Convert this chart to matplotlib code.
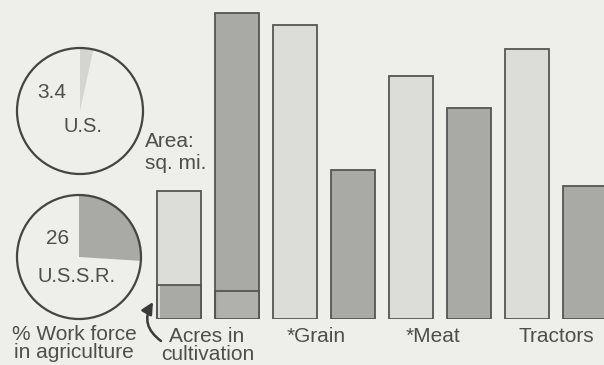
import numpy as np
import matplotlib.pyplot as plt
from matplotlib.patches import Circle, FancyArrowPatch

plt.rcParams['font.family'] = ['Liberation Sans', 'DejaVu Sans']

# Palette
C_BG    = '#eeeeea'
C_LIGHT = '#dcdcd8'   # U.S.
C_DARK  = '#a9a9a5'   # U.S.S.R.
C_EDGE  = '#555555'
C_TEXT  = '#4e4e4e'

# Work force in agriculture (%)
work_force_us = 3.4
work_force_ussr = 26

# Bar heights, relative scale (U.S.S.R. area = 100), U.S. / U.S.S.R. pairs
categories = ['Area', 'Grain', 'Meat', 'Tractors']
us_values   = [41.8, 96.1, 79.4, 88.2]
ussr_values = [100.0, 48.7, 69.0, 43.5]
# Acres in cultivation, drawn inside the area bars
acres_us, acres_ussr = 11.1, 9.2

W, H = 604, 365
fig = plt.figure(figsize=(W / 100, H / 100), dpi=100)
fig.patch.set_facecolor(C_BG)


def px_axes(x0, y0, x1, y1):
    """Axes from pixel box (top-left origin)."""
    return fig.add_axes([x0 / W, 1 - y1 / H, (x1 - x0) / W, (y1 - y0) / H])


# ── Bars ──────────────────────────────────────────────────────────────────
step = 58.0
ax = px_axes(149.5, 0, W, 319)
ax.set_facecolor('none')
ax.set_xlim(-0.5, -0.5 + (W - 149.5) / step)
ax.set_ylim(0, 319 / 3.06)
ax.axis('off')

bw = 44 / step
xs_us = np.arange(len(categories)) * 2
xs_ussr = xs_us + 1
ax.bar(xs_us, us_values, width=bw, color=C_LIGHT, edgecolor=C_EDGE, linewidth=1.3, zorder=2)
ax.bar(xs_ussr, ussr_values, width=bw, color=C_DARK, edgecolor=C_EDGE, linewidth=1.3, zorder=2)

# cultivated share inside the area bars, with a thin light strip on the left
strip = 3 / step
ax.bar([xs_us[0] - bw / 2 + strip], [acres_us], width=bw - strip, align='edge',
       color=C_DARK, edgecolor='none', zorder=3)
ax.bar([xs_ussr[0] - bw / 2 + strip], [acres_ussr], width=bw - strip, align='edge',
       color='#b0b0ac', edgecolor='none', zorder=3)
for x, a in [(xs_us[0], acres_us), (xs_ussr[0], acres_ussr)]:
    ax.bar([x], [a], width=bw, color='none', edgecolor=C_EDGE, linewidth=1.3, zorder=4)

# ── Pies ──────────────────────────────────────────────────────────────────
def work_pie(cx, cy, r, pct, color):
    pad = 6
    pax = px_axes(cx - r - pad, cy - r - pad, cx + r + pad, cy + r + pad)
    pax.pie([pct, 100 - pct], colors=[color, 'none'], startangle=90,
            counterclock=False, radius=1,
            wedgeprops=dict(edgecolor='none', linewidth=0))
    pax.add_patch(Circle((0, 0), 1, facecolor='none', edgecolor='#444444',
                         linewidth=1.6))
    pax.set_xlim(-1 - pad / r, 1 + pad / r)
    pax.set_ylim(-1 - pad / r, 1 + pad / r)
    pax.set_aspect('equal')
    pax.axis('off')
    return pax

work_pie(80, 111, 63, work_force_us, '#d4d4d0')
work_pie(79, 257, 62, work_force_ussr, C_DARK)


def label(x, y, s, ha='center', size=15):
    fig.text(x / W, 1 - y / H, s, ha=ha, va='center', fontsize=size, color=C_TEXT)


label(52, 92, f'{work_force_us}', size=15)
label(83, 127, 'U.S.', size=14.5)
label(58, 238, f'{work_force_ussr}', size=15)
label(77, 277, 'U.S.S.R.', size=14.5)
label(74, 334, '% Work force')
label(74, 353, 'in agriculture')

label(145, 141, 'Area:', ha='left')
label(145, 164, 'sq. mi.', ha='left')
label(207, 336, 'Acres in')
label(208, 355, 'cultivation')
label(316, 337, '*Grain')
label(433, 337, '*Meat')
label(556, 337, 'Tractors')

# curved pointer from the caption to the cultivated block
fig.add_artist(FancyArrowPatch(
    (161 / W, 1 - 341 / H), (153 / W, 1 - 302 / H),
    transform=fig.transFigure, connectionstyle='arc3,rad=-0.45',
    arrowstyle='-|>,head_length=7,head_width=3.5', color='#3a3a3a',
    linewidth=1.8, mutation_scale=1, shrinkA=0, shrinkB=0))

fig.savefig('out.png', dpi=100, facecolor=C_BG)
